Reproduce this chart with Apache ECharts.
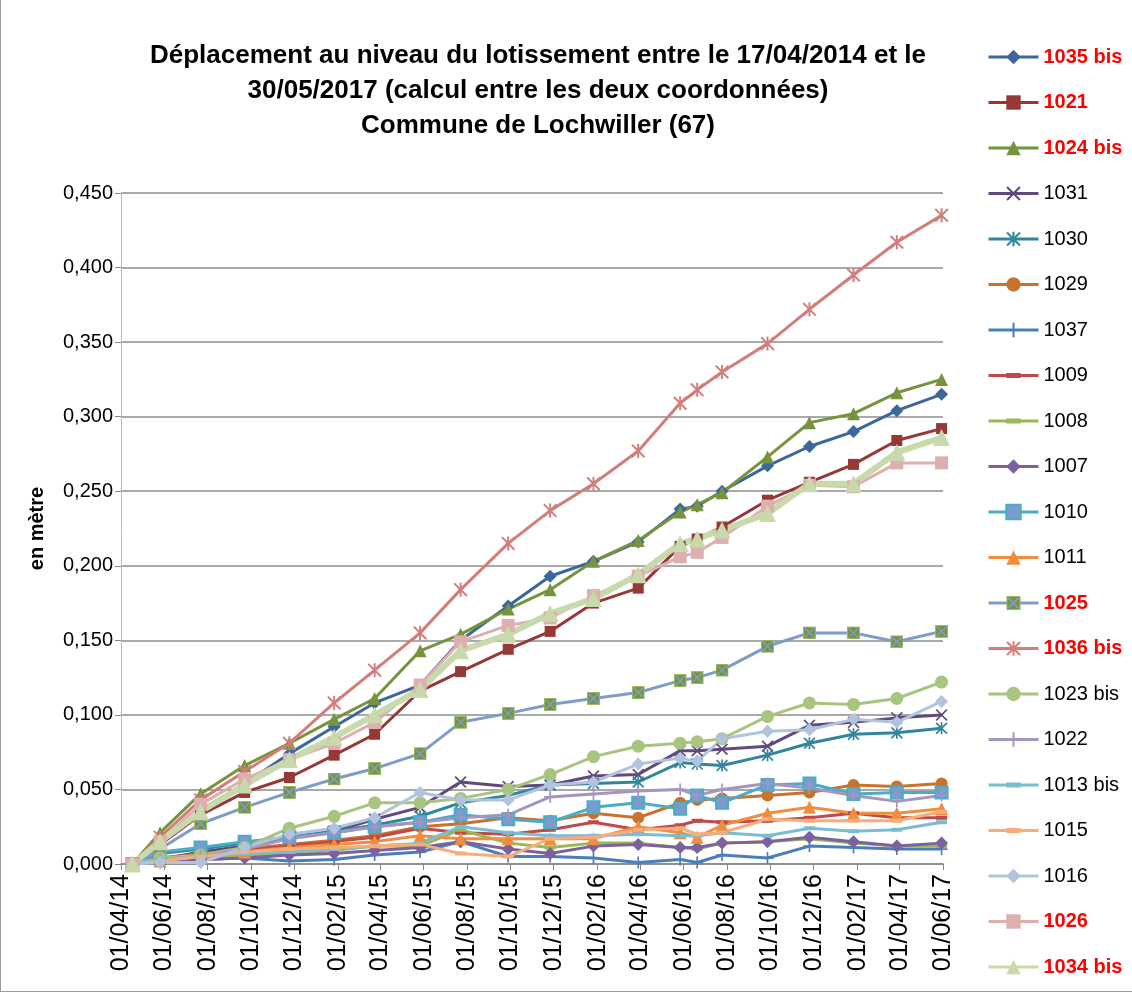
<!DOCTYPE html>
<html>
<head>
<meta charset="utf-8">
<script src="https://cdn.jsdelivr.net/npm/echarts@6/dist/echarts.min.js"></script>
<style>
  html, body { margin: 0; padding: 0; background: #fff; }
  #chart { width: 1132px; height: 992px; box-sizing: border-box; border-left: 1px solid #9a9a9a; border-bottom: 1px solid #9a9a9a; }
</style>
</head>
<body>
<div id="chart"></div>
<script>
// dates des mesures (aaaa-mm-jj)
const dates = ['2014-04-17', '2014-05-26', '2014-07-22', '2014-09-22', '2014-11-24', '2015-01-26', '2015-03-24',
  '2015-05-27', '2015-07-23', '2015-09-28', '2015-11-26', '2016-01-26', '2016-03-29', '2016-05-27',
  '2016-06-20', '2016-07-25', '2016-09-27', '2016-11-25', '2017-01-26', '2017-03-28', '2017-05-30'];

// graduations de l'axe des dates (tous les 2 mois)
const tickDates = ['2014-04-01', '2014-06-01', '2014-08-01', '2014-10-01', '2014-12-01', '2015-02-01', '2015-04-01',
  '2015-06-01', '2015-08-01', '2015-10-01', '2015-12-01', '2016-02-01', '2016-04-01', '2016-06-01',
  '2016-08-01', '2016-10-01', '2016-12-01', '2017-02-01', '2017-04-01', '2017-06-01'];

// points en rouge dans la légende
const redNames = ['1035 bis', '1021', '1024 bis', '1025', '1036 bis', '1026', '1034 bis'];

// déplacements en mètre
const v1035bis = [0, 0.015, 0.036, 0.054, 0.074, 0.092, 0.108, 0.120, 0.150, 0.173, 0.193, 0.203, 0.216, 0.238, 0.240, 0.250, 0.267, 0.280, 0.290, 0.304, 0.315];
const v1021    = [0, 0.013, 0.033, 0.048, 0.058, 0.073, 0.087, 0.116, 0.129, 0.144, 0.156, 0.175, 0.185, 0.213, 0.218, 0.226, 0.244, 0.256, 0.268, 0.284, 0.292];
const v1024bis = [0, 0.021, 0.047, 0.066, 0.081, 0.097, 0.111, 0.143, 0.154, 0.171, 0.184, 0.203, 0.217, 0.236, 0.241, 0.249, 0.273, 0.296, 0.302, 0.316, 0.325];
const v1031    = [0, 0.003, 0.008, 0.012, 0.018, 0.022, 0.030, 0.038, 0.055, 0.052, 0.053, 0.059, 0.060, 0.076, 0.076, 0.077, 0.079, 0.093, 0.095, 0.098, 0.100];
const v1030    = [0, 0.007, 0.010, 0.014, 0.018, 0.022, 0.026, 0.032, 0.041, 0.046, 0.053, 0.054, 0.055, 0.068, 0.067, 0.066, 0.073, 0.081, 0.087, 0.088, 0.091];
const v1029    = [0, 0.003, 0.006, 0.010, 0.013, 0.016, 0.019, 0.025, 0.027, 0.031, 0.029, 0.034, 0.031, 0.041, 0.043, 0.044, 0.046, 0.048, 0.053, 0.052, 0.054];
const v1037    = [0, 0.002, 0.003, 0.004, 0.002, 0.003, 0.006, 0.008, 0.015, 0.005, 0.005, 0.004, 0.001, 0.003, 0.001, 0.006, 0.004, 0.012, 0.011, 0.010, 0.010];
const v1009    = [0, 0.004, 0.007, 0.009, 0.012, 0.015, 0.018, 0.024, 0.021, 0.020, 0.023, 0.028, 0.023, 0.026, 0.029, 0.028, 0.029, 0.031, 0.034, 0.031, 0.031];
const v1008    = [0, 0.002, 0.004, 0.006, 0.007, 0.009, 0.012, 0.012, 0.023, 0.014, 0.011, 0.014, 0.014, 0.011, 0.010, 0.014, 0.015, 0.017, 0.014, 0.012, 0.012];
const v1007    = [0, 0.001, 0.003, 0.004, 0.006, 0.007, 0.009, 0.011, 0.015, 0.010, 0.007, 0.012, 0.013, 0.011, 0.011, 0.014, 0.015, 0.018, 0.015, 0.012, 0.014];
const v1010    = [0, 0.008, 0.011, 0.015, 0.018, 0.021, 0.025, 0.028, 0.033, 0.030, 0.028, 0.038, 0.041, 0.037, 0.046, 0.041, 0.053, 0.054, 0.047, 0.048, 0.048];
const v1011    = [0, 0.002, 0.005, 0.008, 0.011, 0.013, 0.015, 0.019, 0.017, 0.017, 0.017, 0.017, 0.025, 0.021, 0.018, 0.026, 0.034, 0.038, 0.034, 0.034, 0.037];
const v1025    = [0, 0.010, 0.027, 0.038, 0.048, 0.057, 0.064, 0.074, 0.095, 0.101, 0.107, 0.111, 0.115, 0.123, 0.125, 0.130, 0.146, 0.155, 0.155, 0.149, 0.156];
const v1036bis = [0, 0.018, 0.043, 0.062, 0.081, 0.108, 0.130, 0.155, 0.184, 0.215, 0.237, 0.255, 0.277, 0.309, 0.318, 0.330, 0.349, 0.372, 0.395, 0.417, 0.435];
const v1023bis = [0, 0.004, 0.006, 0.011, 0.024, 0.032, 0.041, 0.041, 0.044, 0.050, 0.060, 0.072, 0.079, 0.081, 0.082, 0.084, 0.099, 0.108, 0.107, 0.111, 0.122];
const v1022    = [0, 0.003, 0.005, 0.010, 0.017, 0.021, 0.025, 0.028, 0.031, 0.033, 0.045, 0.047, 0.049, 0.050, 0.046, 0.050, 0.054, 0.051, 0.046, 0.042, 0.046];
const v1013bis = [0, 0.003, 0.005, 0.007, 0.008, 0.010, 0.012, 0.014, 0.025, 0.021, 0.019, 0.019, 0.020, 0.019, 0.019, 0.021, 0.019, 0.024, 0.022, 0.023, 0.028];
const v1015    = [0, 0.002, 0.005, 0.008, 0.010, 0.011, 0.012, 0.013, 0.007, 0.005, 0.017, 0.018, 0.023, 0.024, 0.020, 0.021, 0.030, 0.029, 0.029, 0.029, 0.035];
const v1016    = [0, 0.001, 0.001, 0.011, 0.020, 0.024, 0.031, 0.048, 0.043, 0.043, 0.053, 0.055, 0.067, 0.071, 0.069, 0.084, 0.089, 0.090, 0.097, 0.095, 0.109];
const v1026    = [0, 0.015, 0.040, 0.057, 0.070, 0.081, 0.095, 0.120, 0.149, 0.160, 0.165, 0.180, 0.193, 0.206, 0.209, 0.219, 0.240, 0.254, 0.253, 0.269, 0.269];
const v1034bis = [0, 0.015, 0.035, 0.053, 0.070, 0.085, 0.100, 0.117, 0.143, 0.154, 0.168, 0.178, 0.194, 0.215, 0.218, 0.224, 0.235, 0.255, 0.255, 0.276, 0.286];

function toTime(s) {
  const p = s.split('-');
  return new Date(+p[0], +p[1] - 1, +p[2]).getTime();
}
function pad(n) { return (n < 10 ? '0' : '') + n; }
function fmtDate(t) {
  const d = new Date(t);
  return pad(d.getDate()) + '/' + pad(d.getMonth() + 1) + '/' + pad(d.getFullYear() % 100);
}

const xs = dates.map(toTime);
const ticks = tickDates.map(toTime);

// symboles type Excel (les petits segments vides gardent une boite carree)
const SYM_X = 'path://M1,0 L5,4 L9,0 L10,1 L6,5 L10,9 L9,10 L5,6 L1,10 L0,9 L4,5 L0,1 Z';
const SYM_STAR = 'path://M1,0 L5,4 L9,0 L10,1 L6,5 L10,9 L9,10 L5,6 L1,10 L0,9 L4,5 L0,1 Z M4.3,0 L5.7,0 L5.7,10 L4.3,10 Z';
const SYM_PLUS = 'path://M4.3,0 L5.7,0 L5.7,4.3 L10,4.3 L10,5.7 L5.7,5.7 L5.7,10 L4.3,10 L4.3,5.7 L0,5.7 L0,4.3 L4.3,4.3 Z';
const SYM_DASH = 'path://M0,0 L0.01,0 Z M0,3.2 L10,3.2 L10,6.8 L0,6.8 Z M10,10 L9.99,10 Z';
const SYM_BOXX = 'image://data:image/svg+xml;utf8,' + encodeURIComponent(
  "<svg xmlns='http://www.w3.org/2000/svg' width='24' height='24'>" +
  "<rect x='1' y='1' width='22' height='22' fill='#77933C' stroke='#9BBB59' stroke-width='2'/>" +
  "<path d='M3,3 L21,21 M21,3 L3,21' stroke='#7E9BCC' stroke-width='3'/></svg>");

const defs = [
  { name: '1035 bis', data: v1035bis, color: '#3B679C', symbol: 'diamond', size: 13 },
  { name: '1021',     data: v1021,    color: '#963836', symbol: 'rect', size: 11 },
  { name: '1024 bis', data: v1024bis, color: '#77933C', symbol: 'triangle', size: 13 },
  { name: '1031',     data: v1031,    color: '#5F4A7D', symbol: SYM_X, size: 12 },
  { name: '1030',     data: v1030,    color: '#31859C', symbol: SYM_STAR, size: 12 },
  { name: '1029',     data: v1029,    color: '#C8722E', symbol: 'circle', size: 12 },
  { name: '1037',     data: v1037,    color: '#4A7EBB', symbol: SYM_PLUS, size: 12 },
  { name: '1009',     data: v1009,    color: '#BE4B48', symbol: SYM_DASH, size: 11 },
  { name: '1008',     data: v1008,    color: '#98B954', symbol: SYM_DASH, size: 11 },
  { name: '1007',     data: v1007,    color: '#7D60A0', symbol: 'diamond', size: 13 },
  { name: '1010',     data: v1010,    color: '#4BACC6', symbol: 'rect', size: 12, fill: '#7C9BCD' },
  { name: '1011',     data: v1011,    color: '#F08D3F', symbol: 'triangle', size: 13 },
  { name: '1025',     data: v1025,    color: '#7E9BCC', symbol: SYM_BOXX, size: 13 },
  { name: '1036 bis', data: v1036bis, color: '#D27E7B', symbol: SYM_STAR, size: 14 },
  { name: '1023 bis', data: v1023bis, color: '#A9C47E', symbol: 'circle', size: 13 },
  { name: '1022',     data: v1022,    color: '#A496C0', symbol: SYM_PLUS, size: 12 },
  { name: '1013 bis', data: v1013bis, color: '#7ABCD2', symbol: SYM_DASH, size: 11 },
  { name: '1015',     data: v1015,    color: '#F8AD79', symbol: SYM_DASH, size: 11 },
  { name: '1016',     data: v1016,    color: '#B2C3DE', symbol: 'diamond', size: 13 },
  { name: '1026',     data: v1026,    color: '#DDAFAE', symbol: 'rect', size: 13 },
  { name: '1034 bis', data: v1034bis, color: '#C8D9AC', symbol: 'triangle', size: 17, width: 6 }
];

const FONT = 'Liberation Sans';

const chart = echarts.init(document.getElementById('chart'));
chart.setOption({
  backgroundColor: '#fff',
  animation: false,
  title: {
    text: 'Déplacement au niveau du lotissement entre le 17/04/2014 et le\n30/05/2017 (calcul entre les deux coordonnées)\nCommune de Lochwiller (67)',
    left: 532,
    top: 33,
    textAlign: 'center',
    textStyle: { fontFamily: FONT, fontSize: 26, fontWeight: 'bold', color: '#000', lineHeight: 35 }
  },
  legend: {
    orient: 'vertical',
    left: 981,
    top: 42,
    itemWidth: 50,
    itemHeight: 18,
    itemGap: 25.5,
    data: defs.map(d => d.name),
    lineStyle: { width: 3 },
    formatter: name => redNames.includes(name) ? '{r|' + name + '}' : name,
    textStyle: {
      fontFamily: FONT, fontSize: 20, color: '#000', lineHeight: 20,
      rich: { r: { fontFamily: FONT, fontSize: 20, fontWeight: 'bold', color: '#FF0000', lineHeight: 20 } }
    }
  },
  grid: { left: 120, right: 189, top: 193, bottom: 127, containLabel: false },
  xAxis: {
    type: 'value',
    min: toTime('2014-04-01'),
    max: toTime('2017-06-01'),
    axisLine: { lineStyle: { color: '#868686', width: 1.5 } },
    axisTick: { show: true, customValues: ticks, length: 6, lineStyle: { color: '#868686' } },
    axisLabel: {
      customValues: ticks, rotate: 90, formatter: v => fmtDate(v), hideOverlap: false,
      fontFamily: FONT, fontSize: 25, color: '#000', margin: 10
    },
    splitLine: { show: false }
  },
  yAxis: {
    type: 'value',
    min: 0,
    max: 0.45,
    interval: 0.05,
    name: 'en mètre',
    nameLocation: 'middle',
    nameGap: 74,
    nameTextStyle: { fontFamily: FONT, fontSize: 20, fontWeight: 'bold', color: '#000' },
    axisLine: { show: true, lineStyle: { color: '#bdbdbd', width: 1 } },
    axisTick: { show: true, length: 6, lineStyle: { color: '#868686' } },
    axisLabel: { formatter: v => v.toFixed(3).replace('.', ','), fontFamily: FONT, fontSize: 20, color: '#000', margin: 8 },
    splitLine: { lineStyle: { color: '#8c8c8c', width: 1.5 } }
  },
  series: defs.map(d => ({
    name: d.name,
    type: 'line',
    data: d.data.map((v, i) => [xs[i], v]),
    symbol: d.symbol,
    symbolSize: d.size,
    showAllSymbol: true,
    lineStyle: { color: d.color, width: d.width || 3 },
    itemStyle: { color: d.fill || d.color, borderColor: d.color, borderWidth: d.fill ? 2 : 0 }
  }))
});
</script>
</body>
</html>
